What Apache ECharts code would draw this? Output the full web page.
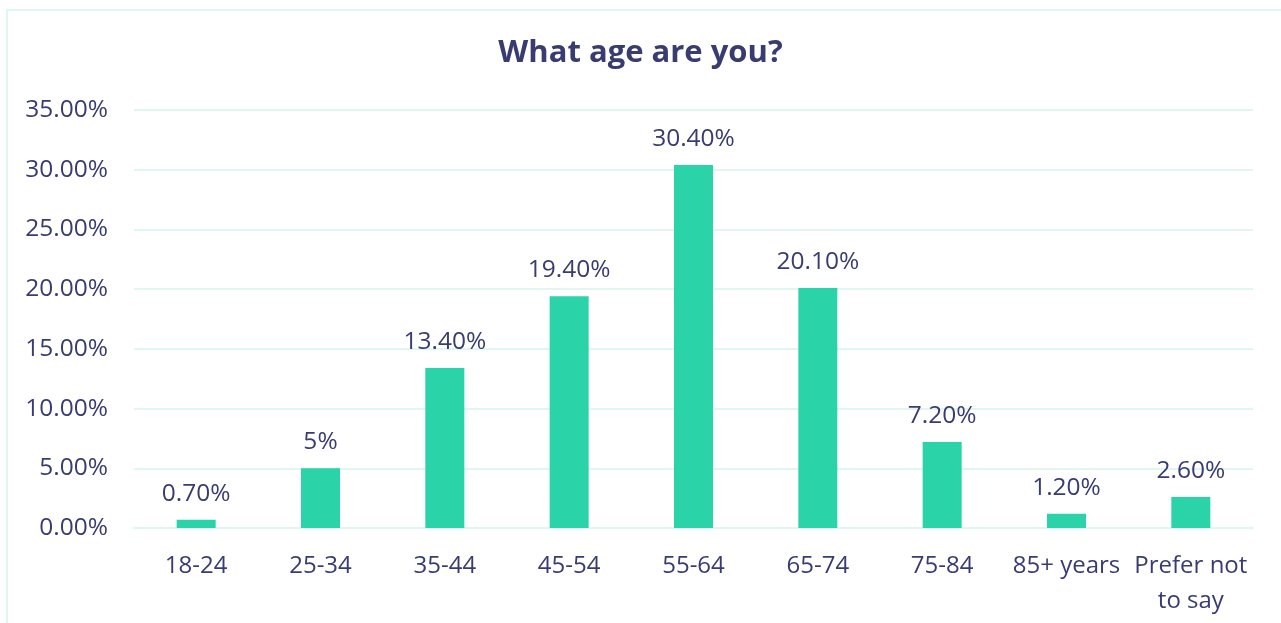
<!DOCTYPE html>
<html>
<head>
<meta charset="utf-8">
<title>What age are you?</title>
<script src="https://cdn.jsdelivr.net/npm/echarts@6/dist/echarts.min.js"></script>
<style>
  html, body { margin: 0; padding: 0; background: #fff; }
  #chart { width: 1281px; height: 623px; }
</style>
</head>
<body>
<div id="chart"></div>
<script>
  // age groups (x axis)
  const categories = ['18-24', '25-34', '35-44', '45-54', '55-64', '65-74', '75-84', '85+ years', 'Prefer not\nto say']
  // share of respondents, percent
  const shares = [0.7, 5, 13.4, 19.4, 30.4, 20.1, 7.2, 1.2, 2.6]
  // labels as printed above the bars
  const shareLabels = ['0.70%', '5%', '13.40%', '19.40%', '30.40%', '20.10%', '7.20%', '1.20%', '2.60%']

  const textColor = '#383c71'
  const gridColor = '#dff7f0'
  const barColor = '#2bd3a8'
  const font = '"Open Sans", sans-serif'

  const chart = echarts.init(document.getElementById('chart'))
  chart.setOption({
    animation: false,
    title: {
      text: 'What age are you?',
      left: 'center',
      top: 33,
      textStyle: {
        fontFamily: font,
        fontSize: 31,
        fontWeight: 'bold',
        color: textColor
      }
    },
    graphic: [{
      type: 'rect',
      silent: true,
      shape: { x: 7, y: 10, width: 1300, height: 700 },
      style: { fill: 'none', stroke: gridColor, lineWidth: 2 }
    }],
    grid: {
      left: 134,
      right: 28,
      top: 110,
      bottom: 95,
      containLabel: false
    },
    xAxis: {
      type: 'category',
      data: categories,
      axisLine: { show: true, lineStyle: { color: gridColor, width: 2 } },
      axisTick: { show: false },
      axisLabel: {
        interval: 0,
        margin: 21,
        color: textColor,
        fontFamily: font,
        fontSize: 24,
        lineHeight: 35
      }
    },
    yAxis: {
      type: 'value',
      min: 0,
      max: 35,
      interval: 5,
      axisLine: { show: false },
      axisTick: { show: false },
      splitLine: { lineStyle: { color: gridColor, width: 2 } },
      axisLabel: {
        margin: 26,
        color: textColor,
        fontFamily: font,
        fontSize: 24.5,
        formatter: function (v) { return v.toFixed(2) + '%' }
      }
    },
    series: [{
      type: 'bar',
      data: shares,
      barWidth: 39,
      itemStyle: { color: barColor },
      label: {
        show: true,
        position: 'top',
        distance: 14,
        color: textColor,
        fontFamily: font,
        fontSize: 24.5,
        lineHeight: 24,
        formatter: function (p) { return shareLabels[p.dataIndex] }
      }
    }]
  })
</script>
</body>
</html>
